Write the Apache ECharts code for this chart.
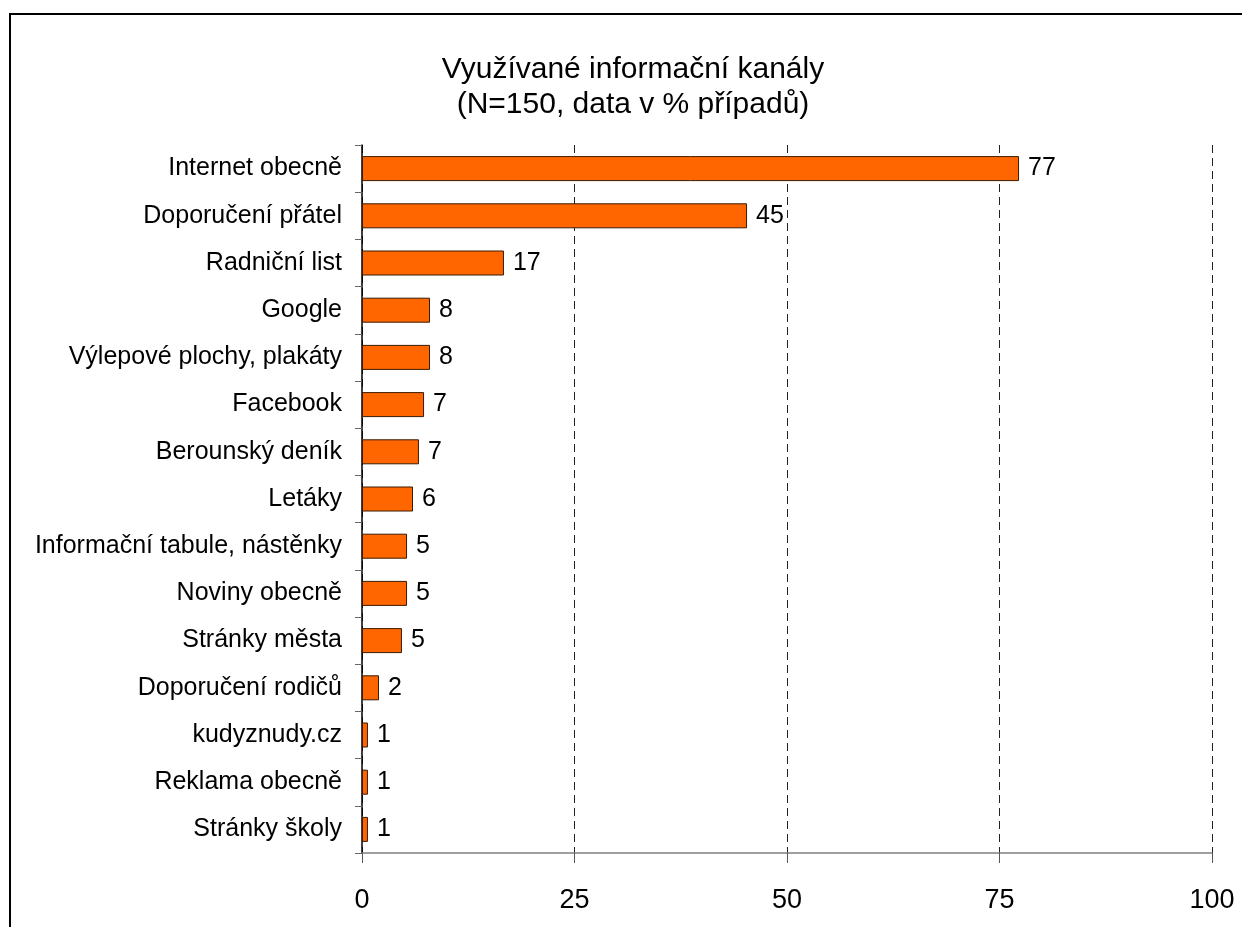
<!DOCTYPE html>
<html>
<head>
<meta charset="utf-8">
<script src="https://cdn.jsdelivr.net/npm/echarts@6/dist/echarts.min.js"></script>
<style>
html,body{margin:0;padding:0;background:#fff;}
#chart{width:1242px;height:927px;}
</style>
</head>
<body>
<div id="chart"></div>
<script>
var titleLines = ['Využívané informační kanály', '(N=150, data v % případů)'];
var categories = ['Internet obecně', 'Doporučení přátel', 'Radniční list', 'Google',
  'Výlepové plochy, plakáty', 'Facebook', 'Berounský deník', 'Letáky',
  'Informační tabule, nástěnky', 'Noviny obecně', 'Stránky města',
  'Doporučení rodičů', 'kudyznudy.cz', 'Reklama obecně', 'Stránky školy'];
var values = [77.3, 45.3, 16.7, 8.0, 8.0, 7.3, 6.7, 6.0, 5.3, 5.3, 4.7, 2.0, 0.7, 0.7, 0.7];
var xTicks = [0, 25, 50, 75, 100];

var FONT = '"Liberation Sans", Arial, sans-serif';
var chart = echarts.init(document.getElementById('chart'));
chart.setOption({
  backgroundColor: '#fff',
  animation: false,
  title: {
    text: titleLines.join('\n'),
    left: 633,
    top: 52,
    textAlign: 'center',
    padding: 0,
    textStyle: { fontFamily: FONT, fontSize: 30, fontWeight: 'normal', color: '#000', lineHeight: 35 }
  },
  graphic: [{
    type: 'rect',
    shape: { x: 10, y: 14, width: 1400, height: 1100 },
    style: { fill: 'none', stroke: '#000', lineWidth: 2 },
    silent: true
  }],
  grid: { left: 362, right: 30, top: 145, bottom: 74, containLabel: false },
  xAxis: {
    type: 'value',
    min: xTicks[0],
    max: xTicks[xTicks.length - 1],
    interval: xTicks[1] - xTicks[0],
    axisLine: { show: true, lineStyle: { color: '#808080', width: 1.5 } },
    axisTick: { show: true, length: 10, lineStyle: { color: '#555', width: 1 } },
    axisLabel: { fontFamily: FONT, fontSize: 27, color: '#000', margin: 34 },
    splitLine: { show: true, lineStyle: { color: '#222', width: 1, type: [8, 5] } }
  },
  yAxis: {
    type: 'category',
    data: categories,
    inverse: true,
    axisLine: { show: true, lineStyle: { color: '#000', width: 1.5 } },
    axisTick: { show: true, length: 7, lineStyle: { color: '#666', width: 1 } },
    axisLabel: { fontFamily: FONT, fontSize: 25, color: '#000', margin: 20 }
  },
  series: [{
    type: 'bar',
    data: values,
    barWidth: 25,
    itemStyle: { color: '#FF6600', borderColor: '#3a1a00', borderWidth: 1 },
    label: {
      show: true,
      position: 'right',
      distance: 9,
      fontFamily: FONT,
      fontSize: 25,
      color: '#000',
      formatter: function (p) { return Math.round(p.value); }
    },
    z: 3
  }]
});
</script>
</body>
</html>
